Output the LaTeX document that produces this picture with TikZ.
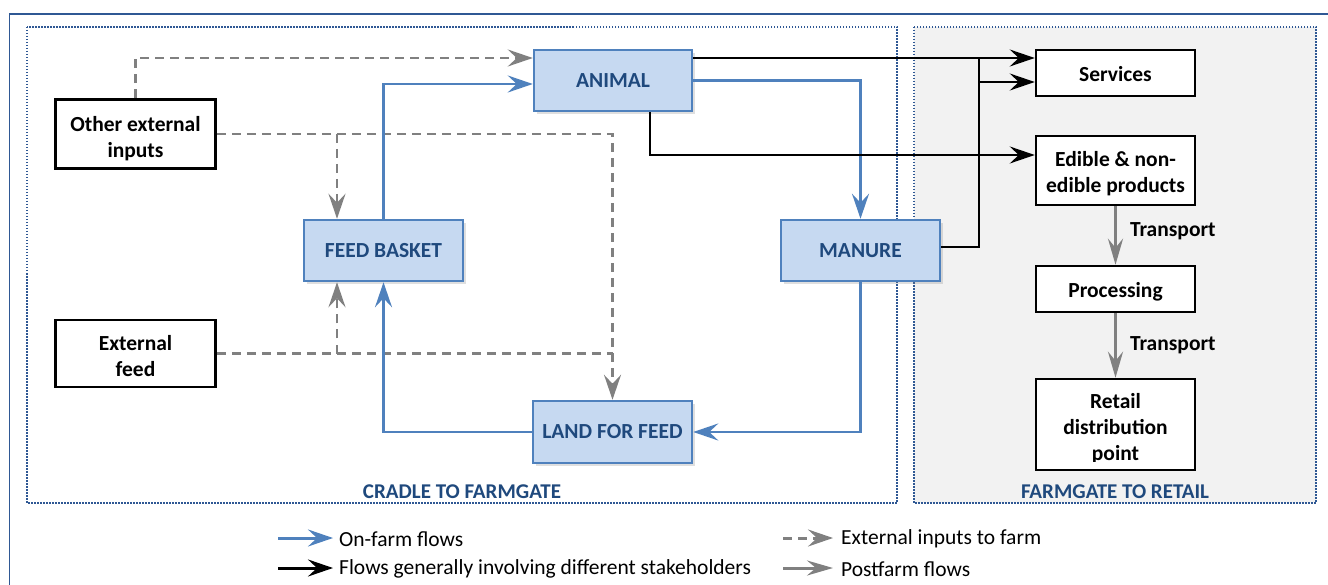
\documentclass[tikz,border=0pt]{standalone}
\usepackage{fontspec}
\setmainfont{Carlito}
\usetikzlibrary{arrows.meta,shadows,calc}
\definecolor{flowblue}{RGB}{79,129,189}
\definecolor{boxfill}{RGB}{198,217,241}
\definecolor{labelblue}{RGB}{31,73,125}
\definecolor{framebl}{RGB}{47,88,148}
\definecolor{ingray}{RGB}{128,128,128}
\definecolor{regionfill}{RGB}{242,242,242}
\begin{document}
\begin{tikzpicture}[x=1pt,y=-1pt,
  arr/.style={-{Stealth[length=25pt,width=17pt,inset=9pt]}},
  onfarm/.style={draw=flowblue,line width=2.5pt,arr},
  stake/.style={draw=black,line width=2.2pt,arr},
  extin/.style={draw=ingray,line width=2.2pt,dash pattern=on 9pt off 6pt},
  extarr/.style={extin,-{Stealth[length=25pt,width=17pt,inset=9pt,fill=ingray]}},
  post/.style={draw=ingray,line width=3pt,-{Stealth[length=26pt,width=15pt,inset=9pt]}},
  bluebox/.style={draw=flowblue,line width=2.5pt,fill=boxfill,
     text=labelblue,font=\bfseries\fontsize{21.5}{26}\selectfont,
     drop shadow={shadow xshift=3pt,shadow yshift=-3pt,opacity=0.25},
     inner sep=0pt},
  plainbox/.style={draw=black,line width=2.5pt,fill=white,inner sep=0pt},
  boxtext/.style={align=center,font=\bfseries\fontsize{21.5}{26}\selectfont,inner sep=0pt},
  region/.style={draw=framebl,line width=1.2pt,dash pattern=on 1.5pt off 1.5pt},
  regionlabel/.style={text=labelblue,font=\bfseries\fontsize{21}{25}\selectfont,inner sep=0pt},
  transp/.style={font=\bfseries\fontsize{21.5}{26}\selectfont,inner sep=0pt},
  legtext/.style={font=\fontsize{21.5}{25}\selectfont,inner sep=0pt,anchor=west}
]
\useasboundingbox (0,0) rectangle (1328,585);
% outer frame
\draw[framebl,line width=1.5pt] (9.5,620) -- (9.5,14) -- (1360,14);
% regions
\draw[region,fill=white] (27,27) rectangle (897,503);
\draw[region,fill=regionfill] (914,27) rectangle (1316,503);
\node[regionlabel] (cradlelbl) at (462,492) {CRADLE TO FARMGATE};
\node[regionlabel] (retaillbl) at (1115,492) {FARMGATE TO RETAIL};

% nodes
\node[bluebox,minimum width=158pt,minimum height=61pt] (animal) at (613,80.5) {ANIMAL};
\node[bluebox,minimum width=159pt,minimum height=61pt] (basket) at (383.5,250.5) {FEED BASKET};
\node[bluebox,minimum width=159pt,minimum height=61pt] (manure) at (860.5,250.5) {MANURE};
\node[bluebox,minimum width=159pt,minimum height=62pt] (land) at (612.5,432) {LAND FOR FEED};
\node[plainbox,minimum width=160pt,minimum height=69pt] (other) at (135.5,134) {};
\node[boxtext] (othertext) at (135.5,139) {Other external\\inputs};
\node[plainbox,minimum width=160pt,minimum height=67pt] (extfeed) at (135.5,353.5) {};
\node[boxtext] (extfeedtext) at (135.5,356) {External\\feed};
\node[plainbox,minimum width=159pt,minimum height=46pt] (services) at (1115.5,73) {};
\node[boxtext] (servicestext) at (1115.5,74) {Services};
\node[plainbox,minimum width=159pt,minimum height=69pt] (edible) at (1115.5,170.5) {};
\node[boxtext] (edibletext) at (1115.5,174) {Edible \& non-\\edible products};
\node[plainbox,minimum width=159pt,minimum height=46pt] (processing) at (1115.5,289) {};
\node[boxtext] (processingtext) at (1115.5,292) {Processing};
\node[plainbox,minimum width=159pt,minimum height=91pt] (retail) at (1115.5,424.5) {};
\begin{scope}
\clip (1038,381) rectangle (1193,461);
\node[boxtext] (retailtext) at (1115.5,429) {Retail\\distribution\\point};
\end{scope}

% helper coordinates
\coordinate (ytop) at (0,58);
\coordinate (yblue) at (0,84);
\coordinate (xbranch) at (337,0);
\coordinate (xanim) at (650,0);
\coordinate (yedible) at (0,155);
\coordinate (xcol) at (979,0);
\coordinate (yserv) at (0,82);
\coordinate (ymanure) at (0,247);

% external inputs (dashed gray)
\draw[extarr] (other.north) |- (animal.west |- ytop);
\draw[extarr] (other.east) -| (land.north);
\draw[extarr] (other.east -| xbranch) -- (basket.north -| xbranch);
\draw[extin] (extfeed.east) -- (extfeed.east -| land.north);
\draw[extarr] (extfeed.east -| xbranch) -- (basket.south -| xbranch);

% on-farm flows (blue)
\draw[onfarm] (basket.north) |- (animal.west |- yblue);
\draw[onfarm] (animal.east) -| (manure.north);
\draw[onfarm] (manure.south) |- (land.east);
\draw[onfarm] (land.west) -| (basket.south);

% stakeholder flows (black)
\draw[stake] (animal.east |- ytop) -- (services.west |- ytop);
\draw[stake] (animal.south -| xanim) |- (edible.west |- yedible);
\draw[stake,-] (manure.east |- ymanure) -| (xcol |- ytop);
\draw[stake] (xcol |- yserv) -- (services.west |- yserv);

% postfarm flows (gray)
\draw[post] (edible.south) -- (processing.north)
  node[transp,midway,anchor=west,xshift=13pt,yshift=4pt] (t1) {Transport};
\draw[post] (processing.south) -- (retail.north)
  node[transp,midway,anchor=west,xshift=13pt,yshift=0pt] (t2) {Transport};

% legend
\coordinate (l1s) at (278,538);
\coordinate (l2s) at (278,568);
\coordinate (l3s) at (783,538);
\coordinate (l4s) at (783,568);
\node[legtext] (l1) at (339,539) {On-farm flows};
\node[legtext] (l2) at (339,569) {Flows generally involving different stakeholders};
\node[legtext] (l3) at (841,539) {External inputs to farm};
\node[legtext] (l4) at (841,569) {Postfarm flows};
\draw[onfarm,line width=3pt] (l1s) -- ($(l1.west |- l1s)+(-6,0)$);
\draw[stake,line width=3pt] (l2s) -- ($(l2.west |- l2s)+(-6,0)$);
\draw[extarr,line width=3pt] (l3s) -- ($(l3.west |- l3s)+(-8,0)$);
\draw[post] (l4s) -- ($(l4.west |- l4s)+(-8,0)$);
\end{tikzpicture}
\end{document}
